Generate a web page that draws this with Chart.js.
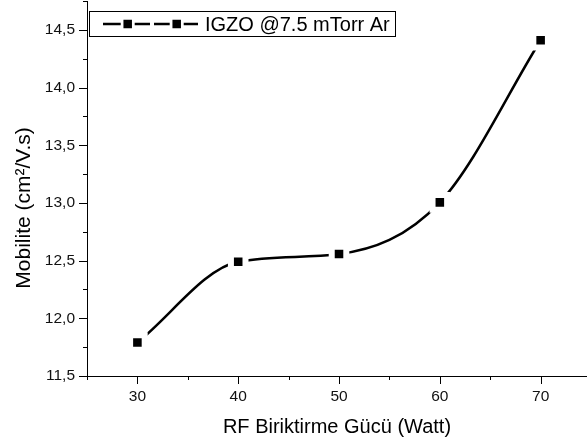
<!DOCTYPE html>
<html>
<head>
<meta charset="utf-8">
<script src="https://cdn.jsdelivr.net/npm/chart.js@4/dist/chart.umd.min.js"></script>
<style>
	html, body { margin: 0; padding: 0; background: #fff; }
	#wrap { width: 587px; height: 444px; }
</style>
</head>
<body>
<div id="wrap"><canvas id="myChart" width="587" height="444"></canvas></div>
<script>
// RF power (W) vs mobility (cm2/V.s)
const power = [30, 40, 50, 60, 70];
const mobility = [11.79, 12.49, 12.557, 13.005, 14.41];
const seriesLabel = 'IGZO @7.5 mTorr Ar';

const xTicks = [25, 30, 35, 40, 45, 50, 55, 60, 65, 70];
const yTicks = [11.5, 11.75, 12, 12.25, 12.5, 12.75, 13, 13.25, 13.5, 13.75, 14, 14.25, 14.5, 14.75];

const FONT = 'Arial, "Liberation Sans", sans-serif';

function isMajorY(v) { return Math.abs(v * 2 - Math.round(v * 2)) < 1e-6; }
function isMajorX(v) { return v % 10 === 0; }

// keep the plot area fixed: no extra room for overhanging labels
function noPadding(s) {
	s.paddingLeft = 0;
	s.paddingRight = 0;
	s.paddingTop = 0;
	s.paddingBottom = 0;
}

// outward tick marks, long for labelled ticks, short for the rest
const tickMarks = {
	id: 'tickMarks',
	afterDraw(chart) {
		const ctx = chart.ctx;
		const x = chart.scales.x, y = chart.scales.y;
		ctx.save();
		ctx.strokeStyle = '#000';
		ctx.lineWidth = 1;
		xTicks.forEach(v => {
			const px = Math.round(x.getPixelForValue(v)) + 0.5;
			const len = isMajorX(v) ? 8 : 4;
			ctx.beginPath();
			ctx.moveTo(px, y.bottom);
			ctx.lineTo(px, y.bottom + len);
			ctx.stroke();
		});
		yTicks.forEach(v => {
			const py = Math.round(y.getPixelForValue(v)) + 0.5;
			const len = isMajorY(v) ? 8 : 4;
			ctx.beginPath();
			ctx.moveTo(x.left, py);
			ctx.lineTo(x.left - len, py);
			ctx.stroke();
		});
		ctx.restore();
	}
};

function drawMarker(ctx, cx, cy) {
	ctx.fillStyle = '#fff';
	ctx.fillRect(cx - 7, cy - 7, 14, 14);
	ctx.fillStyle = '#000';
	ctx.fillRect(cx - 4.25, cy - 4.25, 8.5, 8.5);
}

// boxed legend and rotated y title
const decorations = {
	id: 'decorations',
	afterDraw(chart) {
		const ctx = chart.ctx;
		ctx.save();
		ctx.strokeStyle = '#000';
		ctx.lineWidth = 1;
		ctx.strokeRect(89.5, 11.5, 306, 25);

		ctx.lineWidth = 2.5;
		ctx.beginPath();
		ctx.moveTo(103, 24); ctx.lineTo(150, 24);
		ctx.moveTo(154, 24); ctx.lineTo(198, 24);
		ctx.stroke();
		drawMarker(ctx, 127.7, 24);
		drawMarker(ctx, 176.7, 24);

		ctx.fillStyle = '#000';
		ctx.font = '20px ' + FONT;
		ctx.textBaseline = 'middle';
		ctx.textAlign = 'left';
		ctx.fillText(seriesLabel, 205, 25);

		ctx.font = '21px ' + FONT;
		ctx.translate(24, 208);
		ctx.rotate(-Math.PI / 2);
		ctx.textAlign = 'center';
		ctx.fillText('Mobilite (cm²/V.s)', 0, 0);
		ctx.restore();
	}
};

const ctx = document.getElementById('myChart').getContext('2d');

new Chart(ctx, {
	type: 'line',
	data: {
		labels: power,
		datasets: [{
			label: seriesLabel,
			data: power.map((p, i) => ({ x: p, y: mobility[i] })),
			borderColor: '#000',
			backgroundColor: '#000',
			borderWidth: 2.5,
			cubicInterpolationMode: 'monotone',
			pointStyle: 'rect',
			pointRadius: 10.3,
			pointBorderWidth: 6,
			pointBorderColor: '#fff',
			pointBackgroundColor: '#000',
			clip: false
		}]
	},
	options: {
		responsive: false,
		animation: false,
		layout: { autoPadding: false, padding: { top: 1, right: 0, left: 0, bottom: 0 } },
		plugins: {
			legend: { display: false },
			tooltip: { enabled: false }
		},
		scales: {
			x: {
				type: 'linear',
				min: 25,
				max: 74.6,
				afterBuildTicks: s => { s.ticks = xTicks.map(v => ({ value: v })); },
				afterFit: s => { s.height = 68; noPadding(s); },
				grid: { drawOnChartArea: false, tickLength: 8, color: 'rgba(0,0,0,0)' },
				border: { display: true, color: '#000', width: 1 },
				ticks: {
					color: '#111',
					padding: 3,
					maxRotation: 0,
					autoSkip: false,
					font: { family: FONT, size: 15.5 },
					callback: v => isMajorX(v) ? String(v) : ''
				},
				title: {
					display: true,
					text: 'RF Biriktirme Gücü (Watt)',
					color: '#000',
					font: { family: FONT, size: 20 },
					padding: { top: 0, bottom: 5 }
				}
			},
			y: {
				type: 'linear',
				min: 11.5,
				max: 14.75,
				afterBuildTicks: s => { s.ticks = yTicks.map(v => ({ value: v })); },
				afterFit: s => { s.width = 87; noPadding(s); },
				grid: { drawOnChartArea: false, tickLength: 8, color: 'rgba(0,0,0,0)' },
				border: { display: true, color: '#000', width: 1 },
				ticks: {
					color: '#111',
					padding: 4,
					autoSkip: false,
					font: { family: FONT, size: 15.5 },
					callback: v => isMajorY(v) ? v.toFixed(1).replace('.', ',') : ''
				}
			}
		}
	},
	plugins: [tickMarks, decorations]
});
</script>
</body>
</html>
